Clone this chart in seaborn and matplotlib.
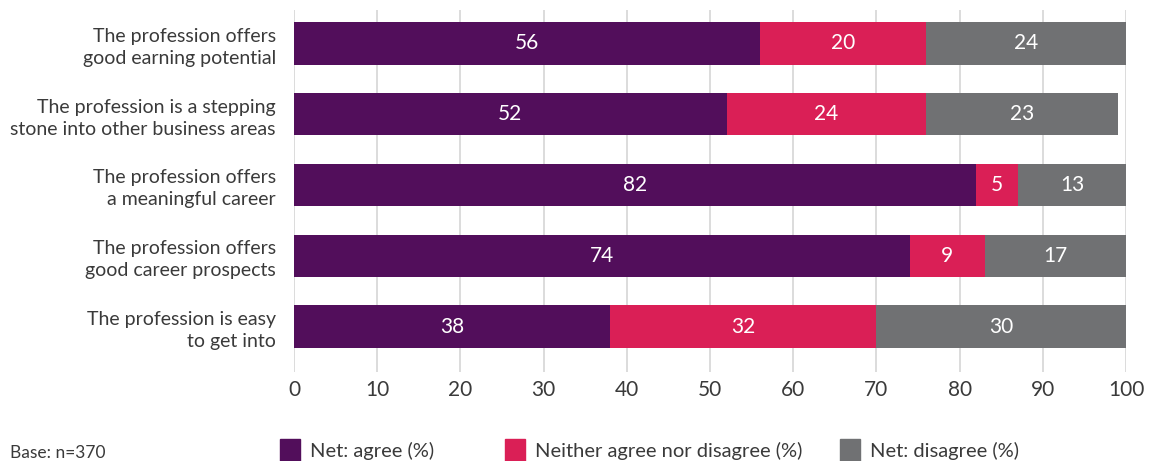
import matplotlib
matplotlib.use("Agg")
import matplotlib.pyplot as plt
import matplotlib.patches as mpatches
import seaborn as sns
import pandas as pd

# Survey statements and response shares (%)
statements = [
    "The profession offers\ngood earning potential",
    "The profession is a stepping\nstone into other business areas",
    "The profession offers\na meaningful career",
    "The profession offers\ngood career prospects",
    "The profession is easy\nto get into",
]
agree = [56, 52, 82, 74, 38]
neither = [20, 24, 5, 9, 32]
disagree = [24, 23, 13, 17, 30]

series_names = ["Net: agree (%)", "Neither agree nor disagree (%)", "Net: disagree (%)"]
colors = ["#520e5b", "#da1f56", "#707173"]
x_ticks = [0, 10, 20, 30, 40, 50, 60, 70, 80, 90, 100]
base_note = "Base: n=370"

sns.set_theme(style="white")
plt.rcParams["font.family"] = ["Lato", "DejaVu Sans"]
TEXT = "#3a3a3a"

df = pd.DataFrame({"statement": statements, "agree": agree,
                   "neither": neither, "disagree": disagree})
df["cum_neither"] = df["agree"] + df["neither"]
df["cum_total"] = df["cum_neither"] + df["disagree"]

fig = plt.figure(figsize=(11.56, 4.61), dpi=100)
ax = fig.add_axes([294 / 1156, 1 - 372 / 461, 832 / 1156, 362 / 461])

# Stacked bars drawn back to front from cumulative totals
for col, c in zip(["cum_total", "cum_neither", "agree"], colors[::-1]):
    sns.barplot(data=df, y="statement", x=col, color=c, orient="h",
                width=0.6, saturation=1, linewidth=0, ax=ax, zorder=3)

# Segment value labels at each segment's midpoint
for i, row in df.iterrows():
    starts = [0, row["agree"], row["cum_neither"]]
    vals = [row["agree"], row["neither"], row["disagree"]]
    for s, v in zip(starts, vals):
        ax.text(s + v / 2, i, f"{v}", ha="center", va="center",
                color="white", fontsize=15, zorder=4)

ax.set_xlim(0, 100)
ax.set_ylim(4.64, -0.47)
ax.set_xticks(x_ticks)
ax.set_xticklabels([str(t) for t in x_ticks])
ax.set_xlabel("")
ax.set_ylabel("")
ax.grid(axis="x", color="#d6d6d6", linewidth=1.2, zorder=0)
ax.grid(axis="y", visible=False)
for sp in ax.spines.values():
    sp.set_visible(False)
ax.tick_params(axis="x", length=0, pad=6, labelsize=15, labelcolor=TEXT)
ax.tick_params(axis="y", length=0, pad=13, labelsize=14, labelcolor=TEXT)
for lbl in ax.get_yticklabels():
    lbl.set_horizontalalignment("right")
    lbl.set_multialignment("right")
    lbl.set_linespacing(1.35)

# Legend entries, one per series, spread along the bottom
legend_x = [280, 505, 840]
for h_x, c, n in zip(legend_x, colors, series_names):
    fig.legend(handles=[mpatches.Patch(color=c, label=n)], loc="center left",
               bbox_to_anchor=(h_x / 1156, 1 - 450 / 461), frameon=False,
               fontsize=14.5, handlelength=1.0, handleheight=1.3,
               handletextpad=0.5, borderpad=0, borderaxespad=0,
               labelcolor=TEXT)
fig.text(10 / 1156, 1 - 453 / 461, base_note, fontsize=12.5, color=TEXT,
         ha="left", va="center")

fig.savefig("out.png", dpi=100)
